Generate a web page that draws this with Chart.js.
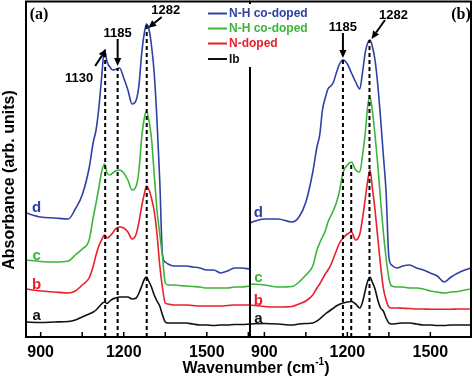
<!DOCTYPE html>
<html><head><meta charset="utf-8">
<script src="https://cdn.jsdelivr.net/npm/chart.js@4.4.1/dist/chart.umd.min.js"></script>
<style>
html,body{margin:0;padding:0;background:#fff;}
#wrap{position:relative;width:474px;height:378px;overflow:hidden;}
#ca,#cb{position:absolute;left:0;top:0;}
</style></head><body>
<div id="wrap">
<canvas id="ca" width="252" height="378"></canvas>
<canvas id="cb" width="474" height="378"></canvas>
</div>
<script>
// ---------- DATA ----------
const wavenumbers = [847, 900, 950, 1000, 1025, 1050, 1075, 1090, 1100, 1110, 1120, 1130, 1140, 1150, 1160, 1170, 1185, 1200, 1215, 1230, 1245, 1255, 1265, 1275, 1282, 1290, 1300, 1310, 1320, 1330, 1340, 1350, 1360, 1380, 1400, 1425, 1450, 1475, 1500, 1525, 1550, 1575, 1600, 1625, 1656];

// panel (a)
const aIb  = [15, 14.5, 15, 15.5, 17, 20, 23, 25, 27, 30, 33, 35, 33.5, 36, 38, 39, 40, 40, 40, 38, 39, 44, 51, 58, 60, 56, 50, 42, 36, 31, 22, 15, 14, 14, 14, 14, 13, 12, 12, 11.5, 12, 12, 12.5, 12.5, 13];
const aN   = [48, 46, 45, 44, 46, 52, 59, 71, 82, 91, 97, 102, 99, 101, 104, 108, 110, 109, 105, 98, 103, 115, 131, 144, 151, 148, 139, 126, 103, 72, 49, 34, 33, 32, 32, 32, 31.5, 31, 31, 31, 31, 31.5, 32, 32, 32];
const aNHc = [77, 75.5, 75, 76, 82, 88, 97, 120, 134, 149, 165, 173, 164, 162, 164, 166, 167, 164, 157, 147, 151, 167, 200, 220, 226, 218, 199, 163, 127, 103, 80, 54, 52, 52, 51.5, 51, 50.5, 50, 49, 49, 49, 49, 50, 50, 51];
const aNHd = [124, 120, 119, 118, 128, 142, 169, 195, 207, 229, 259, 287, 275, 270, 267, 267.5, 269, 259, 247, 233, 237, 252, 284, 305, 313, 309, 292, 264, 217, 157, 82, 75, 73, 71, 71, 71, 70, 69, 67, 67, 64, 66, 69, 69, 68];

// panel (b)
const bIb  = [13, 13.5, 13, 12, 13, 13.5, 14, 16, 18, 20.5, 23, 25, 27, 29, 31, 32.5, 34, 35, 35.5, 33, 29, 35, 47, 57, 60, 55, 48, 37, 29, 26, 19, 14, 13, 13.5, 14, 14, 13, 12, 12, 11.5, 11.5, 12, 12, 12, 12];
const bN   = [32, 30.5, 30, 30.5, 33, 36, 42, 49, 53, 58, 63, 67, 72, 79, 86, 93, 99, 103, 105, 97, 103, 119, 139, 159, 167, 150, 127, 99, 72, 49, 37, 30, 29, 29, 28.7, 28.5, 28, 28, 27.7, 27.7, 27.7, 27.7, 28, 28, 28];
const bNHc = [53, 52, 50, 50.5, 55, 62, 71, 87, 94, 100, 106, 115, 121, 127, 134, 144, 165, 172, 175, 167, 165, 182, 205, 234, 240, 227, 202, 172, 137, 105, 79, 59, 51, 50, 50, 49, 49, 48, 46, 45, 44, 45, 45.5, 47, 48];
const bNHd = [114, 118, 118, 115, 120, 135, 165, 190, 202, 227, 239, 248, 251, 255, 264, 272, 277, 273, 264, 255, 248, 265, 285, 295, 297, 291, 277, 252, 219, 182, 145, 80, 72, 69, 71, 72, 69, 67, 64, 61, 55, 60, 64, 67, 70];

const seriesNames   = ['Ib', 'N-doped', 'N-H co-doped', 'N-H co-doped'];
const curveLetters  = ['a', 'b', 'c', 'd'];
const tickValues    = [900, 1050, 1200, 1350, 1500, 1650];
const tickLabels    = ['900', '', '1200', '', '1500', ''];

const peaksA     = [1133, 1178, 1283];
const peaksATop  = [287, 269, 313];
const peakTextA  = ['1130', '1185', '1282'];
const peaksB     = [1184, 1214, 1280];
const peaksBTop  = [277, 175, 297];
const peakTextB  = ['1185', '', '1282'];

// ---------- STYLE ----------
const colors = ['#111111', '#e8202a', '#3db43c', '#2f40a6'];
const SANS = "'Liberation Sans', Arial, sans-serif";
const SERIF = "'Liberation Serif', 'Times New Roman', serif";

function curveDatasets(series) {
  return series.map((vals, i) => ({
    type: 'line', label: seriesNames[i],
    data: wavenumbers.map((w, j) => ({x: w, y: vals[j]})),
    borderColor: colors[i], borderWidth: 1.6, pointRadius: 0,
    cubicInterpolationMode: 'monotone', fill: false, order: 2
  }));
}
function dashDatasets(pk, tops) {
  return pk.map((p, i) => ({
    type: 'line', label: '_dash',
    data: [{x: p, y: 0}, {x: p, y: tops[i]}],
    borderColor: '#000', borderWidth: 2, borderDash: [4, 3],
    pointRadius: 0, fill: false, order: 1
  }));
}
function baseOptions(xmin, xmax, padLeft, padRight) {
  return {
    responsive: false, animation: false, devicePixelRatio: 1,
    layout: {padding: {left: padLeft, right: padRight, top: 2, bottom: 0}},
    plugins: {legend: {display: false}, tooltip: {enabled: false}},
    scales: {
      x: {
        type: 'linear', min: xmin, max: xmax,
        afterBuildTicks: s => { s.ticks = tickValues.filter(v => v >= xmin && v <= xmax).map(v => ({value: v})); },
        afterFit: s => { s.height = 41; },
        grid: {display: true, drawOnChartArea: false, drawTicks: true, tickLength: 6, color: 'rgba(0,0,0,0)'},
        border: {display: false},
        ticks: {
          autoSkip: false, maxRotation: 0, padding: 0, color: '#000',
          font: {family: SANS, size: 16, weight: 'bold'},
          callback: v => { const k = tickValues.indexOf(v); return k >= 0 ? tickLabels[k] : ''; }
        }
      },
      y: {type: 'linear', display: false, min: 0, max: 335}
    }
  };
}

function arrow(ctx, x1, y1, x2, y2) {
  const a = Math.atan2(y2 - y1, x2 - x1), L = 8, W = 3.6;
  const bx = x2 - L * Math.cos(a), by = y2 - L * Math.sin(a);
  ctx.lineWidth = 2;
  ctx.beginPath(); ctx.moveTo(x1, y1); ctx.lineTo(bx, by); ctx.stroke();
  ctx.beginPath(); ctx.moveTo(x2, y2);
  ctx.lineTo(bx - W * Math.sin(a), by + W * Math.cos(a));
  ctx.lineTo(bx + W * Math.sin(a), by - W * Math.cos(a));
  ctx.closePath(); ctx.fill();
}

function drawCommon(chart, cfg) {
  const ctx = chart.ctx, ca = chart.chartArea, xs = chart.scales.x, ys = chart.scales.y;
  ctx.save();
  ctx.strokeStyle = '#000'; ctx.fillStyle = '#000';
  // inward ticks
  ctx.lineWidth = 1.5;
  xs.ticks.forEach(t => {
    const p = xs.getPixelForValue(t.value);
    ctx.beginPath(); ctx.moveTo(p, ca.bottom); ctx.lineTo(p, ca.bottom - 5); ctx.stroke();
  });
  // frame
  ctx.lineWidth = 2;
  ctx.beginPath();
  ctx.moveTo(ca.left, ca.bottom); ctx.lineTo(ca.right, ca.bottom);
  ctx.moveTo(ca.left, ca.top - 0.5); ctx.lineTo(ca.right, ca.top - 0.5);
  ctx.moveTo(ca.left, ca.top - 1.5); ctx.lineTo(ca.left, ca.bottom + 1);
  if (cfg.right) { ctx.moveTo(ca.right, ca.top - 1.5); ctx.lineTo(ca.right, ca.bottom + 1); }
  ctx.stroke();
  // peak annotations
  ctx.font = 'bold 13px ' + SANS; ctx.textAlign = 'center'; ctx.textBaseline = 'middle';
  cfg.peaks.forEach((p, i) => {
    const an = cfg.ann[i]; if (!an) return;
    const px = xs.getPixelForValue(p), py = ys.getPixelForValue(cfg.tops[i]);
    arrow(ctx, px + an.tail[0], py + an.tail[1], px + an.tip[0], py + an.tip[1]);
    ctx.fillText(cfg.texts[i], px + an.text[0], py + an.text[1]);
  });
  // curve letters
  ctx.font = 'bold 15px ' + SANS;
  cfg.series.forEach((s, i) => {
    ctx.fillStyle = colors[i];
    ctx.fillText(curveLetters[i], ca.left + cfg.letterDx, ys.getPixelForValue(s[0]) - cfg.lift[i]);
  });
  // panel label
  ctx.fillStyle = '#000';
  ctx.font = 'bold 16px ' + SERIF;
  const pp = cfg.panelPos(ca);
  ctx.fillText(cfg.panel, pp[0], pp[1]);
  ctx.restore();
}

// ---------- CHART (a) ----------
const cfgA = {
  right: false, peaks: peaksA, tops: peaksATop, texts: peakTextA,
  ann: [
    {tip: [1, -1], tail: [-10, 16], text: [-26, 28]},
    {tip: [0, -2], tail: [0, -29], text: [0, -35]},
    {tip: [1.5, 4], tail: [15, -7], text: [19, -14]}
  ],
  series: [aIb, aN, aNHc, aNHd], letterDx: 10.7, lift: [6, 4, 4, 5],
  panel: '(a)', panelPos: ca => [ca.left + 13, ca.top + 13]
};
const pluginA = {
  id: 'panelA',
  afterDatasetsDraw(chart) {
    drawCommon(chart, cfgA);
    const ctx = chart.ctx;
    ctx.save();
    ctx.translate(9.5, 180); ctx.rotate(-Math.PI / 2);
    ctx.font = 'bold 16px ' + SANS; ctx.fillStyle = '#000';
    ctx.textAlign = 'center'; ctx.textBaseline = 'middle';
    ctx.fillText('Absorbance (arb. units)', 0, 0);
    ctx.restore();
  }
};
new Chart(document.getElementById('ca'), {
  type: 'line',
  data: {datasets: [...curveDatasets([aIb, aN, aNHc, aNHd]), ...dashDatasets(peaksA, peaksATop)]},
  options: baseOptions(847, 1656, 26, 2),
  plugins: [pluginA]
});

// ---------- CHART (b) ----------
const cfgB = {
  right: true, peaks: peaksB, tops: peaksBTop, texts: peakTextB,
  ann: [
    {tip: [0, -2], tail: [0, -27], text: [0, -32.5]},
    null,
    {tip: [2, -1], tail: [15.5, -20], text: [24, -25]}
  ],
  series: [bIb, bN, bNHc, bNHd], letterDx: 8.3, lift: [5.5, 4, 6, 10],
  panel: '(b)', panelPos: ca => [ca.right - 10, ca.top + 12.5]
};
const pluginB = {
  id: 'panelB',
  afterDatasetsDraw(chart) {
    drawCommon(chart, cfgB);
    const ctx = chart.ctx;
    ctx.save();
    // legend
    ctx.fillStyle = '#fff'; ctx.fillRect(204, 4, 110, 63);
    const order = [3, 2, 1, 0], ly = [13.5, 28.5, 43.5, 59];
    ctx.font = 'bold 12px ' + SANS; ctx.textAlign = 'left'; ctx.textBaseline = 'middle';
    order.forEach((k, i) => {
      ctx.strokeStyle = colors[k]; ctx.fillStyle = colors[k]; ctx.lineWidth = 2;
      ctx.beginPath(); ctx.moveTo(208, ly[i]); ctx.lineTo(227, ly[i]); ctx.stroke();
      ctx.fillText(chart.data.datasets[k].label, 229, ly[i] + 0.5);
    });
    // x title
    ctx.fillStyle = '#000'; ctx.textBaseline = 'alphabetic';
    const f1 = 'bold 16px ' + SANS, f2 = 'bold 10px ' + SANS;
    ctx.font = f1; const w1 = ctx.measureText('Wavenumber (cm').width, w3 = ctx.measureText(')').width;
    ctx.font = f2; const w2 = ctx.measureText('-1').width;
    let x0 = 256 - (w1 + w2 + w3) / 2;
    ctx.font = f1; ctx.fillText('Wavenumber (cm', x0, 373);
    ctx.font = f2; ctx.fillText('-1', x0 + w1, 365);
    ctx.font = f1; ctx.fillText(')', x0 + w1 + w2, 373);
    ctx.restore();
  }
};
new Chart(document.getElementById('cb'), {
  type: 'line',
  data: {datasets: [...curveDatasets([bIb, bN, bNHc, bNHd]), ...dashDatasets(peaksB, peaksBTop)]},
  options: baseOptions(848, 1647, 250, 3),
  plugins: [pluginB]
});
</script>
</body></html>
